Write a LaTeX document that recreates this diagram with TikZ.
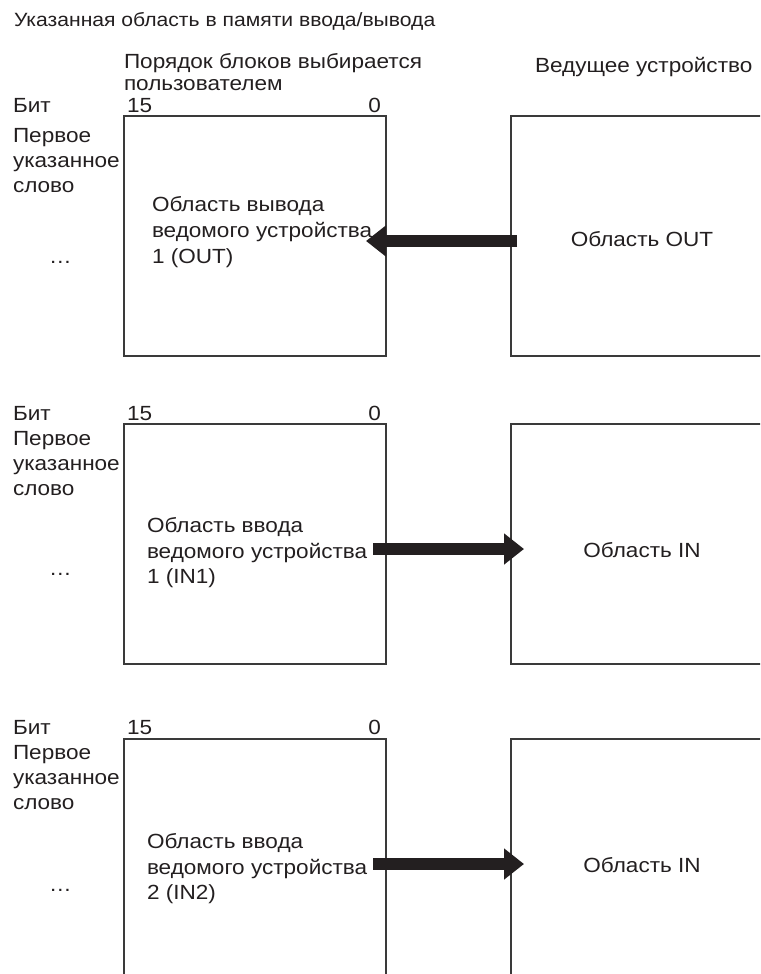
\documentclass[tikz,border=0pt]{standalone}
\usepackage{fontspec}
\setmainfont{Liberation Sans}[FakeStretch=1.1]
\usetikzlibrary{arrows.meta,calc}
\definecolor{ink}{HTML}{231F20}
\definecolor{edge}{HTML}{3A3A3A}
\tikzset{
  txt/.style={inner sep=0pt, outer sep=0pt, anchor=base west, text=ink, font=\fontsize{20.5}{25}\selectfont},
  txtr/.style={txt, anchor=base east},
  txtc/.style={txt, anchor=base},
  memblock/.style={draw=edge, line width=1.3pt, inner sep=0pt, outer sep=0pt, anchor=north west, minimum width=262pt},
  hostblock/.style={draw=edge, line width=1.3pt, inner sep=0pt, outer sep=0pt, anchor=north west, minimum width=300pt},
  bigarrow/.style={draw=ink, line width=11.5pt, -{Triangle[length=20pt,width=30pt]}}
}
\begin{document}
\begin{tikzpicture}[x=1pt,y=-1pt]
\useasboundingbox (0,0) rectangle (760,974);
\clip (0,0) rectangle (760,974);

% header
\node[txt, font=\fontsize{19.2}{24}\selectfont] (title) at (14,27) {Указанная область в памяти ввода/вывода};
\node[txt] (order1) at (124,68) {Порядок блоков выбирается};
\node[txt] (order2) at (124,90) {пользователем};
\node[txt] (master) at (535,73) {Ведущее устройство};

% ---------- section 1 ----------
\node[memblock, minimum height=240pt] (L1) at (124,116) {};
\node[hostblock, minimum height=240pt] (R1) at (511,116) {};
\node[txt] (bit1) at (13,112) {Бит};
\node[txt] (hi1) at (127,112) {15};
\node[txtr] (lo1) at (381,112) {0};
\node[txt] (w1a) at (13,142) {Первое};
\node[txt] (w1b) at (13,167) {указанное};
\node[txt] (w1c) at (13,192) {слово};
\node[txt] (d1) at (49,263) {…};
\node[txt] (s1a) at (152,211) {Область вывода};
\node[txt] (s1b) at (152,237) {ведомого устройства};
\node[txt] (s1c) at (152,263) {1 (OUT)};
\node[txtc] (h1) at (642,246) {Область OUT};
\coordinate (a1s) at ($(R1.north west)+(6,125)$);
\coordinate (a1e) at ($(L1.north east)+(-20,125)$);
\draw[bigarrow] (a1s) -- (a1e);

% ---------- section 2 ----------
\node[memblock, minimum height=240pt] (L2) at (124,424) {};
\node[hostblock, minimum height=240pt] (R2) at (511,424) {};
\node[txt] (bit2) at (13,420) {Бит};
\node[txt] (hi2) at (127,420) {15};
\node[txtr] (lo2) at (381,420) {0};
\node[txt] (w2a) at (13,445) {Первое};
\node[txt] (w2b) at (13,470) {указанное};
\node[txt] (w2c) at (13,495) {слово};
\node[txt] (d2) at (49,575) {…};
\node[txt] (s2a) at (147,532) {Область ввода};
\node[txt] (s2b) at (147,558) {ведомого устройства};
\node[txt] (s2c) at (147,583) {1 (IN1)};
\node[txtc] (h2) at (642,557) {Область IN};
\coordinate (a2s) at ($(L2.north east)+(-13,125)$);
\coordinate (a2e) at ($(R2.north west)+(13,125)$);
\draw[bigarrow] (a2s) -- (a2e);

% ---------- section 3 ----------
\node[memblock, minimum height=300pt] (L3) at (124,739) {};
\node[hostblock, minimum height=300pt] (R3) at (511,739) {};
\node[txt] (bit3) at (13,734) {Бит};
\node[txt] (hi3) at (127,734) {15};
\node[txtr] (lo3) at (381,734) {0};
\node[txt] (w3a) at (13,759) {Первое};
\node[txt] (w3b) at (13,784) {указанное};
\node[txt] (w3c) at (13,809) {слово};
\node[txt] (d3) at (49,891) {…};
\node[txt] (s3a) at (147,848) {Область ввода};
\node[txt] (s3b) at (147,874) {ведомого устройства};
\node[txt] (s3c) at (147,899) {2 (IN2)};
\node[txtc] (h3) at (642,872) {Область IN};
\coordinate (a3s) at ($(L3.north east)+(-13,125)$);
\coordinate (a3e) at ($(R3.north west)+(13,125)$);
\draw[bigarrow] (a3s) -- (a3e);
\end{tikzpicture}
\end{document}
